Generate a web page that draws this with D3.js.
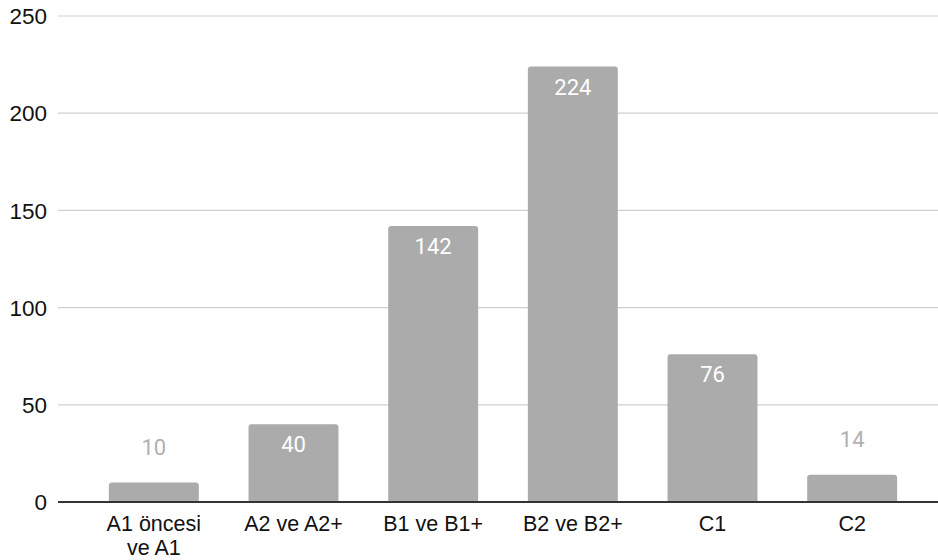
<!DOCTYPE html>
<html>
<head>
<meta charset="utf-8">
<script src="https://cdn.jsdelivr.net/npm/d3@7"></script>
<style>
  html, body { margin: 0; padding: 0; background: #fff; }
  svg { display: block; }
</style>
</head>
<body>
<svg id="chart" width="938" height="560"></svg>
<script>
// CEFR level counts
const categories = [["A1 öncesi", "ve A1"], ["A2 ve A2+"], ["B1 ve B1+"], ["B2 ve B2+"], ["C1"], ["C2"]];
const values = [10, 40, 142, 224, 76, 14];
const yTicks = [0, 50, 100, 150, 200, 250];

const svg = d3.select("#chart");
const W = 938;

const keys = categories.map(c => c.join(" "));

const x = d3.scaleBand()
  .domain(keys)
  .range([84, 922])
  .paddingInner(0.356)
  .paddingOuter(0.178);

const y = d3.scaleLinear().domain([0, 250]).range([502, 16]);

const barColor = "#ababab";

// horizontal gridlines
svg.append("g")
  .selectAll("line")
  .data(yTicks.filter(t => t !== 0))
  .join("line")
  .attr("x1", 58).attr("x2", W)
  .attr("y1", d => y(d)).attr("y2", d => y(d))
  .attr("stroke", "#cfcfcf").attr("stroke-width", 1.2);

// y tick labels
svg.append("g")
  .selectAll("text")
  .data(yTicks)
  .join("text")
  .attr("x", 47)
  .attr("y", d => y(d))
  .attr("dy", "0.36em")
  .attr("text-anchor", "end")
  .attr("font-family", "Liberation Sans, Arial, sans-serif")
  .attr("font-size", 22.5)
  .attr("fill", "#111")
  .text(d => d);

// bars with slightly rounded top corners
const r = 3;
function barPath(x0, w, yTop, yBase) {
  const h = yBase - yTop;
  const rr = Math.min(r, h / 2, w / 2);
  return `M${x0},${yBase}V${yTop + rr}Q${x0},${yTop} ${x0 + rr},${yTop}` +
         `H${x0 + w - rr}Q${x0 + w},${yTop} ${x0 + w},${yTop + rr}V${yBase}Z`;
}

svg.append("g")
  .selectAll("path")
  .data(values)
  .join("path")
  .attr("d", (d, i) => barPath(x(keys[i]), x.bandwidth(), y(d), y(0)))
  .attr("fill", barColor);

// value labels: inside the bar for tall bars, above for short ones
svg.append("g")
  .selectAll("text")
  .data(values)
  .join("text")
  .attr("x", (d, i) => x(keys[i]) + x.bandwidth() / 2)
  .attr("y", d => (y(0) - y(d) > 45) ? y(d) + 28 : y(d) - 28)
  .attr("text-anchor", "middle")
  .attr("font-family", "Roboto, sans-serif")
  .attr("font-size", 22)
  .attr("fill", d => (y(0) - y(d) > 45) ? "#ffffff" : "#b0b0b0")
  .text(d => d);

// baseline
svg.append("line")
  .attr("x1", 58).attr("x2", W)
  .attr("y1", y(0)).attr("y2", y(0))
  .attr("stroke", "#333").attr("stroke-width", 2);

// category labels
const cat = svg.append("g")
  .selectAll("text")
  .data(categories)
  .join("text")
  .attr("x", (d, i) => x(keys[i]) + x.bandwidth() / 2)
  .attr("y", 531)
  .attr("text-anchor", "middle")
  .attr("font-family", "Liberation Sans, Arial, sans-serif")
  .attr("font-size", 21.5)
  .attr("fill", "#111");

cat.selectAll("tspan")
  .data(d => d)
  .join("tspan")
  .attr("x", function () { return d3.select(this.parentNode).attr("x"); })
  .attr("dy", (d, i) => i === 0 ? 0 : 24)
  .text(d => d);
</script>
</body>
</html>
